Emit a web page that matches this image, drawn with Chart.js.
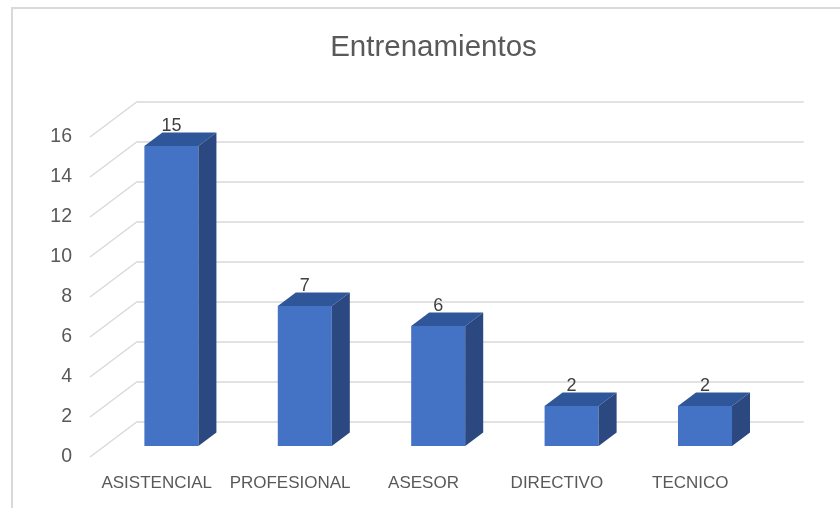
<!DOCTYPE html>
<html><head><meta charset="utf-8">
<script src="https://cdn.jsdelivr.net/npm/chart.js@4/dist/chart.umd.min.js"></script>
<style>
html,body{margin:0;padding:0;background:#fff;overflow:hidden}
#wrap{position:relative;width:840px;height:508px}
#frame{position:absolute;left:11px;top:7px;width:900px;height:600px;border-top:2px solid #d9d9d9;border-left:2px solid #d9d9d9;pointer-events:none}
</style></head><body>
<div id="wrap"><canvas id="c" width="840" height="508"></canvas><div id="frame"></div></div>
<script>
// ---- data ----
const chartTitle = 'Entrenamientos';
const categories = ['ASISTENCIAL', 'PROFESIONAL', 'ASESOR', 'DIRECTIVO', 'TECNICO'];
const values = [15, 7, 6, 2, 2];
const yMin = 0;
const yMax = 16;
const yStep = 2;

// ---- 3D look (styling only) ----
const FRONT = {dx: -14.7, dy: 11};
const BACK = {dx: 32, dy: -24};
const BAR_DEPTH = {dx: 18, dy: -13.5};
const FONT = "'Liberation Sans', Arial, sans-serif";

const threeD = {
  id: 'threeD',
  beforeDatasetsDraw(chart) {
    const {ctx, chartArea: a, scales: {y}} = chart;
    ctx.save();
    ctx.strokeStyle = '#d9d9d9';
    ctx.lineWidth = 1.3;
    y.ticks.forEach(t => {
      const py = y.getPixelForValue(t.value);
      ctx.beginPath();
      ctx.moveTo(a.left + FRONT.dx, py + FRONT.dy);
      ctx.lineTo(a.left + BACK.dx, py + BACK.dy);
      ctx.lineTo(a.right + BACK.dx, py + BACK.dy);
      ctx.stroke();
    });
    ctx.restore();
  },
  afterDatasetsDraw(chart) {
    const ctx = chart.ctx;
    const meta = chart.getDatasetMeta(0);
    const data = chart.data.datasets[0].data;
    ctx.save();
    meta.data.forEach((bar, i) => {
      const {x, y, base, width} = bar.getProps(['x', 'y', 'base', 'width'], true);
      const l = x - width / 2, r = x + width / 2;
      // top face
      ctx.fillStyle = '#30569a';
      ctx.beginPath();
      ctx.moveTo(l, y);
      ctx.lineTo(l + BAR_DEPTH.dx, y + BAR_DEPTH.dy);
      ctx.lineTo(r + BAR_DEPTH.dx, y + BAR_DEPTH.dy);
      ctx.lineTo(r, y);
      ctx.closePath();
      ctx.fill();
      // side face
      ctx.fillStyle = '#2b4880';
      ctx.beginPath();
      ctx.moveTo(r, y);
      ctx.lineTo(r + BAR_DEPTH.dx, y + BAR_DEPTH.dy);
      ctx.lineTo(r + BAR_DEPTH.dx, base + BAR_DEPTH.dy);
      ctx.lineTo(r, base);
      ctx.closePath();
      ctx.fill();
      // value label
      ctx.fillStyle = '#404040';
      ctx.font = '18px ' + FONT;
      ctx.textAlign = 'center';
      ctx.textBaseline = 'alphabetic';
      ctx.fillText(String(data[i]), x, y + BAR_DEPTH.dy - 1.5);
    });
    ctx.restore();
  }
};

new Chart(document.getElementById('c'), {
  type: 'bar',
  data: {
    labels: categories,
    datasets: [{
      data: values,
      backgroundColor: '#4472c4',
      borderWidth: 0,
      categoryPercentage: 1,
      barPercentage: 0.405
    }]
  },
  options: {
    responsive: false,
    animation: false,
    devicePixelRatio: 1,
    layout: {padding: {left: 95.3, right: 68.3, top: 0, bottom: 0}},
    plugins: {
      legend: {display: false},
      tooltip: {enabled: false},
      title: {
        display: true,
        text: chartTitle,
        color: '#595959',
        font: {family: FONT, size: 29.5, weight: 'normal'},
        padding: {top: 29.8, bottom: 60.8}
      }
    },
    scales: {
      x: {
        grid: {display: false, drawTicks: false, tickLength: 0},
        border: {display: false},
        ticks: {
          color: '#595959',
          font: {family: FONT, size: 17},
          labelOffset: FRONT.dx,
          padding: 27,
          maxRotation: 0,
          autoSkip: false
        },
        afterFit(s) { s.height = 62; }
      },
      y: {
        min: yMin,
        max: yMax,
        grid: {display: false, drawTicks: false, tickLength: 0},
        border: {display: false},
        ticks: {
          stepSize: yStep,
          color: '#595959',
          font: {family: FONT, size: 19.5},
          labelOffset: FRONT.dy,
          padding: 32.7
        },
        afterFit(s) {
          s.width = 9.4;
          // let the tick labels extend to the left of the narrow axis box
          s._computeLabelArea = () => undefined;
        }
      }
    }
  },
  plugins: [threeD]
});
</script>
</body></html>
